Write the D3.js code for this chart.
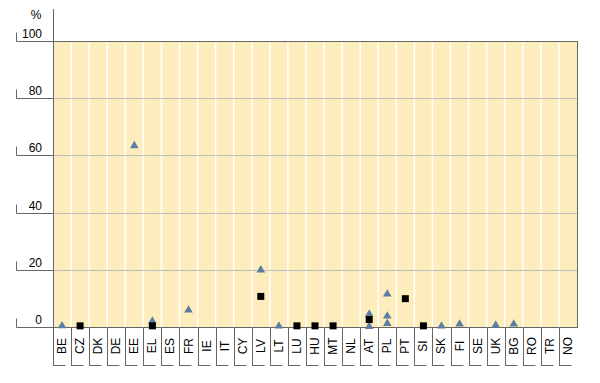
<!DOCTYPE html>
<html><head><meta charset="utf-8">
<script src="https://cdn.jsdelivr.net/npm/d3@7/dist/d3.min.js"></script>
<style>body{margin:0;background:#fff}svg{display:block}text{font-family:"Liberation Sans",Arial,sans-serif}</style>
</head><body><svg id="c" width="600" height="383"></svg>
<script>
const categories = ["BE","CZ","DK","DE","EE","EL","ES","FR","IE","IT","CY","LV","LT","LU","HU","MT","NL","AT","PL","PT","SI","SK","FI","SE","UK","BG","RO","TR","NO"];
const yTicks = [0,20,40,60,80,100];
// triangle series (up to three points per country), null = no point
const triangleA = [0.4,null,null,null,63.4,2.0,null,5.9,null,null,null,19.9,0.3,null,null,null,null,4.5,11.5,null,null,0.3,1.0,null,0.6,1.0,null,null,null];
const triangleB = [null,null,null,null,null,0.5,null,null,null,null,null,null,null,null,null,null,null,0.2,3.8,null,null,null,null,null,null,null,null,null,null];
const triangleC = [null,null,null,null,null,null,null,null,null,null,null,null,null,null,null,null,null,null,1.2,null,null,null,null,null,null,null,null,null,null];
// square series
const squares = [null,0.4,null,null,null,0.4,null,null,null,null,null,10.7,null,0.4,0.4,0.4,null,2.6,null,9.9,0.4,null,null,null,null,null,null,null,null];

const svg = d3.select("#c");
const L = 53, R = 577, T = 41, B = 327;
const x = d3.scaleBand().domain(categories).range([L, R]);
const y = d3.scaleLinear().domain([0, 100]).range([B, T]);

svg.append("rect").attr("x", L).attr("y", T).attr("width", R - L).attr("height", B - T).attr("fill", "#FEEDBC");

// vertical white gridlines
svg.append("g").selectAll("line").data(categories.slice(1)).join("line")
  .attr("x1", d => x(d)).attr("x2", d => x(d)).attr("y1", T).attr("y2", B)
  .attr("stroke", "#fff").attr("stroke-width", 1.5);

// horizontal gridlines
svg.append("g").selectAll("line").data(yTicks.filter(v => v > 0 && v < 100)).join("line")
  .attr("x1", L).attr("x2", R).attr("y1", d => Math.round(y(d)) + 0.5).attr("y2", d => Math.round(y(d)) + 0.5)
  .attr("stroke", "#bdbdbd").attr("stroke-width", 1);

// plot border top/right
svg.append("line").attr("x1", L).attr("x2", R + 0.5).attr("y1", T + 0.5).attr("y2", T + 0.5).attr("stroke", "#666");
svg.append("line").attr("x1", R + 0.5).attr("x2", R + 0.5).attr("y1", T).attr("y2", B).attr("stroke", "#666");

// y axis tick "L" shapes
const yt = svg.append("g");
yTicks.forEach(v => {
  const yy = Math.round(y(v)) + 0.5;
  yt.append("line").attr("x1", 16.5).attr("x2", 16.5).attr("y1", yy - 9).attr("y2", yy).attr("stroke", "#666");
  yt.append("line").attr("x1", 16.5).attr("x2", L).attr("y1", yy).attr("y2", yy).attr("stroke", "#666");
  yt.append("text").attr("x", 42).attr("y", yy - 4).attr("text-anchor", "end").attr("font-size", 12).attr("fill", "#000").text(v);
});
svg.append("text").attr("x", 36).attr("y", 19).attr("text-anchor", "middle").attr("font-size", 12).text("%");

// y axis line and baseline
svg.append("line").attr("x1", L + 0.5).attr("x2", L + 0.5).attr("y1", 9).attr("y2", B).attr("stroke", "#666");
svg.append("line").attr("x1", L).attr("x2", R + 1).attr("y1", B + 0.5).attr("y2", B + 0.5).attr("stroke", "#666");

// category boxes
const cg = svg.append("g").selectAll("g").data(categories).join("g");
cg.append("line").attr("x1", d => Math.round(x(d)) + 0.5).attr("x2", d => Math.round(x(d)) + 0.5)
  .attr("y1", B).attr("y2", 365.5).attr("stroke", "#666");
cg.append("line").attr("x1", d => Math.round(x(d))).attr("x2", d => Math.round(x(d)) + 12.5)
  .attr("y1", 365.5).attr("y2", 365.5).attr("stroke", "#666");
cg.append("text")
  .attr("transform", d => `translate(${x(d) + x.bandwidth() / 2 + 4},346) rotate(-90)`)
  .attr("text-anchor", "middle").attr("font-size", 12).attr("fill", "#000").text(d => d);

// markers
const tri = d3.symbol().type(d3.symbolTriangle).size(32);
[triangleA, triangleB, triangleC].forEach(series => {
  svg.append("g").selectAll("path").data(categories.map((c, i) => ({c, v: series[i]})).filter(d => d.v != null)).join("path")
    .attr("d", tri).attr("transform", d => `translate(${x(d.c) + x.bandwidth() / 2},${y(d.v)})`)
    .attr("fill", "#5A7DA5");
});
svg.append("g").selectAll("rect").data(categories.map((c, i) => ({c, v: squares[i]})).filter(d => d.v != null)).join("rect")
  .attr("x", d => x(d.c) + x.bandwidth() / 2 - 3.5).attr("y", d => y(d.v) - 3.5)
  .attr("width", 7).attr("height", 7).attr("fill", "#000");
</script></body></html>
